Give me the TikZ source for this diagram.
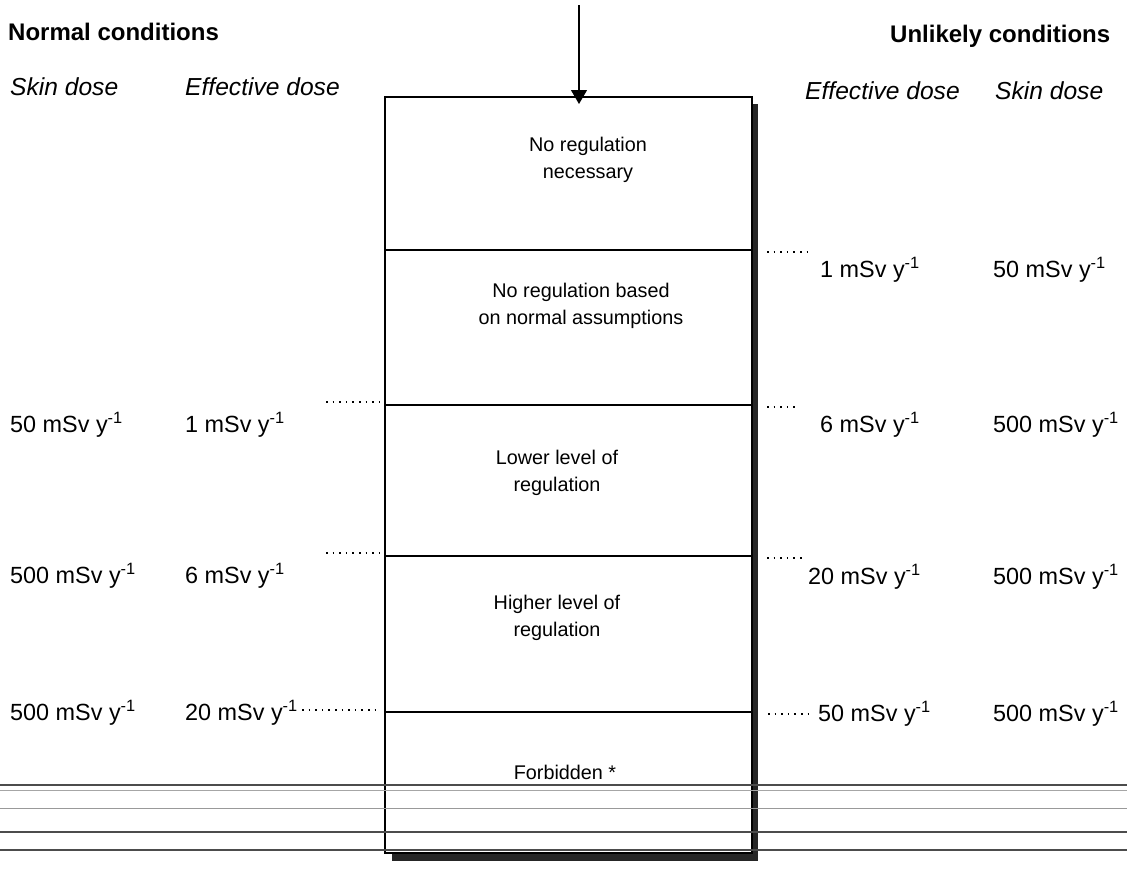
\documentclass[tikz,border=0pt]{standalone}
\usepackage{fontspec}
\setmainfont{Liberation Sans}
\usetikzlibrary{arrows.meta}
\newcommand{\msv}[1]{#1 mSv y\textsuperscript{-1}}
\begin{document}
\begin{tikzpicture}[x=1pt,y=-1pt,
  hdr/.style={font=\fontsize{24}{27}\selectfont\bfseries, anchor=west, inner sep=0},
  colhead/.style={font=\fontsize{24.6}{27}\selectfont\itshape, anchor=west, inner sep=0},
  val/.style={font=\fontsize{23.4}{27}\selectfont, anchor=west, inner sep=0},
  band/.style={draw=none, inner sep=0, align=center, font=\fontsize{19.8}{27}\selectfont},
  divider/.style={line width=1.1pt},
  leader/.style={line width=1.6pt, dash pattern=on 1.6pt off 5pt},
  scan/.style={line width=#1pt, black!70},
]
\useasboundingbox (0,0) rectangle (1127,870);
\fill[white] (0,0) rectangle (1127,870);

% headers
\node[hdr] (nc) at (8,32) {Normal conditions};
\node[hdr] (uc) at (890,36) {Unlikely conditions};
\node[colhead] (lsd) at (10,87) {Skin dose};
\node[colhead] (led) at (185,87) {Effective dose};
\node[colhead] (red) at (805,91) {Effective dose};
\node[colhead] (rsd) at (995,91) {Skin dose};

% box geometry
\coordinate (bTL) at (385,97);
\coordinate (bBR) at (752,853);
% shadow
\fill[black!85] (752,104) rectangle (758,861);
\fill[black!85] (392,853) rectangle (758,861);
\fill[white] (385,97) rectangle (752,853);
\draw[line width=1.2pt] (bTL) rectangle (bBR);

% dividers
\foreach \yy/\nm in {250/d1,405/d2,556/d3,712/d4}{
  \coordinate (\nm L) at (385,\yy);
  \coordinate (\nm R) at (752,\yy);
  \draw[divider] (\nm L) -- (\nm R);
}

% band texts
\node[band] (b1) at (588,160) {No regulation\\necessary};
\node[band] (b2) at (581,306) {No regulation based\\on normal assumptions};
\node[band] (b3) at (557,473) {Lower level of\\regulation};
\node[band] (b4) at (557,618) {Higher level of\\regulation};
\node[band] (b5) at (565,772) {Forbidden *};

% top arrow
\coordinate (atop) at (579,5);
\coordinate (abot) at (579,104);
\draw[line width=1.1pt, -{Triangle[length=14pt,width=16pt]}] (atop) -- (abot);

% left values
\node[val] (l1a) at (10,425) {\msv{50}};
\node[val] (l1b) at (185,425) {\msv{1}};
\node[val] (l2a) at (10,576) {\msv{500}};
\node[val] (l2b) at (185,576) {\msv{6}};
\node[val] (l3a) at (10,713) {\msv{500}};
\node[val] (l3b) at (185,713) {\msv{20}};

% right values
\node[val] (r0a) at (820,270) {\msv{1}};
\node[val] (r0b) at (993,270) {\msv{50}};
\node[val] (r1a) at (820,425) {\msv{6}};
\node[val] (r1b) at (993,425) {\msv{500}};
\node[val] (r2a) at (808,577) {\msv{20}};
\node[val] (r2b) at (993,577) {\msv{500}};
\node[val] (r3a) at (818,714) {\msv{50}};
\node[val] (r3b) at (993,714) {\msv{500}};

% leaders left
\coordinate (ll2) at (326,402);
\coordinate (ll3) at (326,553);
\coordinate (ll4) at (302,710);
\draw[leader] (ll2) -- (381,402);
\draw[leader] (ll3) -- (381,553);
\draw[leader] (ll4) -- (381,710);
% leaders right
\coordinate (rl1) at (810,252);
\coordinate (rl2) at (797,407);
\coordinate (rl3) at (805,558);
\coordinate (rl4) at (808,714);
\draw[leader] (767,252) -- (rl1);
\draw[leader] (767,407) -- (rl2);
\draw[leader] (767,558) -- (rl3);
\draw[leader] (768,714) -- (rl4);

% scan lines
\draw[scan=1.6] (0,785) -- (1127,785);
\draw[line width=0.8pt, black!35] (0,790) -- (1127,790);
\draw[line width=0.9pt, black!40] (0,808) -- (1127,808);
\draw[scan=1.5] (0,832) -- (1127,832);
\draw[scan=1.5] (0,850) -- (1127,850);
\end{tikzpicture}
\end{document}
